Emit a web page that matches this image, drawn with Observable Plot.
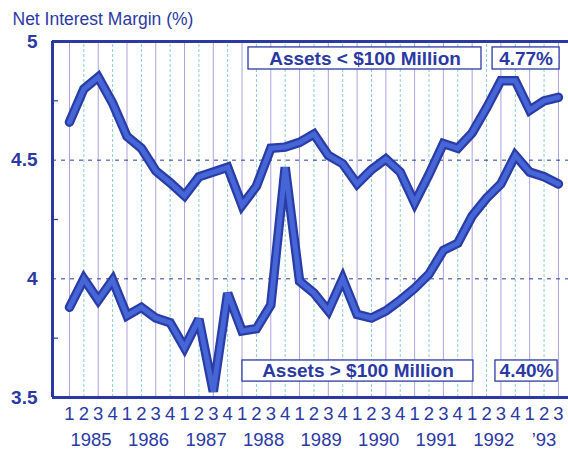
<!DOCTYPE html>
<html>
<head>
<meta charset="utf-8">
<script src="https://cdn.jsdelivr.net/npm/d3@7"></script>
<script src="https://cdn.jsdelivr.net/npm/@observablehq/plot@0.6"></script>
<style>
  html, body { margin: 0; padding: 0; background: #fff; }
  svg { font-family: "Liberation Sans", Arial, sans-serif; }
</style>
</head>
<body>
<div id="chart"></div>
<script>
// Quarterly data, 1985 Q1 .. 1993 Q3
const years = ["1985", "1986", "1987", "1988", "1989", "1990", "1991", "1992", "’93"];
const quarterNumbers = [1,2,3,4, 1,2,3,4, 1,2,3,4, 1,2,3,4, 1,2,3,4, 1,2,3,4, 1,2,3,4, 1,2,3,4, 1,2,3];
const smallBanks = [4.66, 4.80, 4.85, 4.74, 4.60, 4.55, 4.455, 4.405, 4.35, 4.43, 4.45, 4.47,
                    4.31, 4.39, 4.55, 4.555, 4.575, 4.61, 4.52, 4.485, 4.40, 4.46, 4.505, 4.45,
                    4.32, 4.44, 4.57, 4.55, 4.615, 4.72, 4.835, 4.835, 4.71, 4.75, 4.765];
const largeBanks = [3.88, 4.00, 3.91, 3.995, 3.845, 3.88, 3.835, 3.815, 3.71, 3.83, 3.525, 3.94,
                    3.78, 3.79, 3.89, 4.47, 3.99, 3.94, 3.865, 4.00, 3.85, 3.835, 3.865, 3.91,
                    3.96, 4.02, 4.12, 4.15, 4.265, 4.34, 4.40, 4.52, 4.45, 4.43, 4.40];
const yTicks = [5, 4.5, 4, 3.5];
const yMinorTicks = [4.75, 4.25, 3.75];
const yDashed = [4.5, 4];
const seriesNames = ["Assets < $100 Million", "Assets > $100 Million"];
const endLabels = ["4.77%", "4.40%"];

// annotation boxes (data units: quarter index, percent)
const labelBoxes = [
  {text: seriesNames[0], x1: 12.45, x2: 28.65, y1: 4.882, y2: 4.975},
  {text: endLabels[0],  x1: 29.42, x2: 34.08, y1: 4.882, y2: 4.975},
  {text: seriesNames[1], x1: 12.03, x2: 28.09, y1: 3.567, y2: 3.656},
  {text: endLabels[1],  x1: 29.62, x2: 33.94, y1: 3.567, y2: 3.656}
];

const ink = "#2b3aa3";
const xMin = -1.18, xMax = 34.70;
const idx = quarterNumbers.map((_, i) => i);
const small = smallBanks.map((v, i) => ({i, v}));
const large = largeBanks.map((v, i) => ({i, v}));
const yearPos = years.map((y, k) => ({label: y, x: k < 8 ? k * 4 + 1.5 : k * 4 + 1}));

const lineMarks = (data) => [
  Plot.line(data, {x: "i", y: "v", stroke: "#2a3da6", strokeWidth: 9.5, strokeLinejoin: "miter", strokeMiterlimit: 3}),
  Plot.line(data, {x: "i", y: "v", stroke: "#4665d6", strokeWidth: 5, strokeLinejoin: "miter", strokeMiterlimit: 3})
];

const chart = Plot.plot({
  width: 568,
  height: 449,
  marginTop: 41,
  marginBottom: 52,
  marginLeft: 52,
  marginRight: 0,
  x: {domain: [xMin, xMax], axis: null},
  y: {domain: [3.5, 5], axis: null},
  marks: [
    // vertical quarter grid
    Plot.ruleX(idx.filter(i => i % 2 === 0), {x: d => d, y1: 3.5, y2: 5, stroke: "#aaa3dd", strokeWidth: 1}),
    Plot.ruleX(idx.filter(i => i % 2 === 1), {x: d => d, y1: 3.5, y2: 5, stroke: "#8ccfc5", strokeWidth: 1, strokeDasharray: "3,2"}),
    // dashed horizontal gridlines
    Plot.ruleY(yDashed, {stroke: ink, strokeWidth: 1, strokeDasharray: "4,5"}),
    // minor ticks on left axis
    Plot.ruleY(yMinorTicks, {x1: xMin, x2: xMin + 0.42, stroke: ink, strokeWidth: 1.2}),
    // series lines
    ...lineMarks(small),
    ...lineMarks(large),
    // label boxes
    Plot.rect(labelBoxes, {x1: "x1", x2: "x2", y1: "y1", y2: "y2", fill: "white", stroke: ink, strokeWidth: 1.3}),
    Plot.text(labelBoxes, {x: d => (d.x1 + d.x2) / 2, y: d => (d.y1 + d.y2) / 2, text: "text",
      fill: ink, fontWeight: "bold", fontSize: 19, letterSpacing: 0.6, lineAnchor: "middle"}),
    // frame lines
    Plot.ruleY([5, 3.5], {stroke: ink, strokeWidth: 3}),
    Plot.ruleX([xMin], {y1: 3.5, y2: 5, stroke: ink, strokeWidth: 3}),
    // y tick labels
    Plot.text(yTicks, {y: d => d, text: d => String(d), frameAnchor: "left", textAnchor: "end", dx: -15,
      fill: ink, fontWeight: "bold", fontSize: 19, lineAnchor: "middle"}),
    // x quarter labels
    Plot.text(idx, {x: d => d, text: d => String(quarterNumbers[d]), frameAnchor: "bottom", lineAnchor: "top", dy: 9,
      fill: ink, fontSize: 18.5}),
    // year labels
    Plot.text(yearPos, {x: "x", text: "label", frameAnchor: "bottom", lineAnchor: "top", dy: 35,
      fill: ink, fontSize: 18.5, letterSpacing: 1.3}),
    // title
    Plot.text(["Net Interest Margin (%)"], {frameAnchor: "top-left", textAnchor: "start", lineAnchor: "top",
      dx: -40, dy: -28.5, fill: ink, fontSize: 17.5})
  ]
});
document.getElementById("chart").appendChild(chart);
</script>
</body>
</html>
